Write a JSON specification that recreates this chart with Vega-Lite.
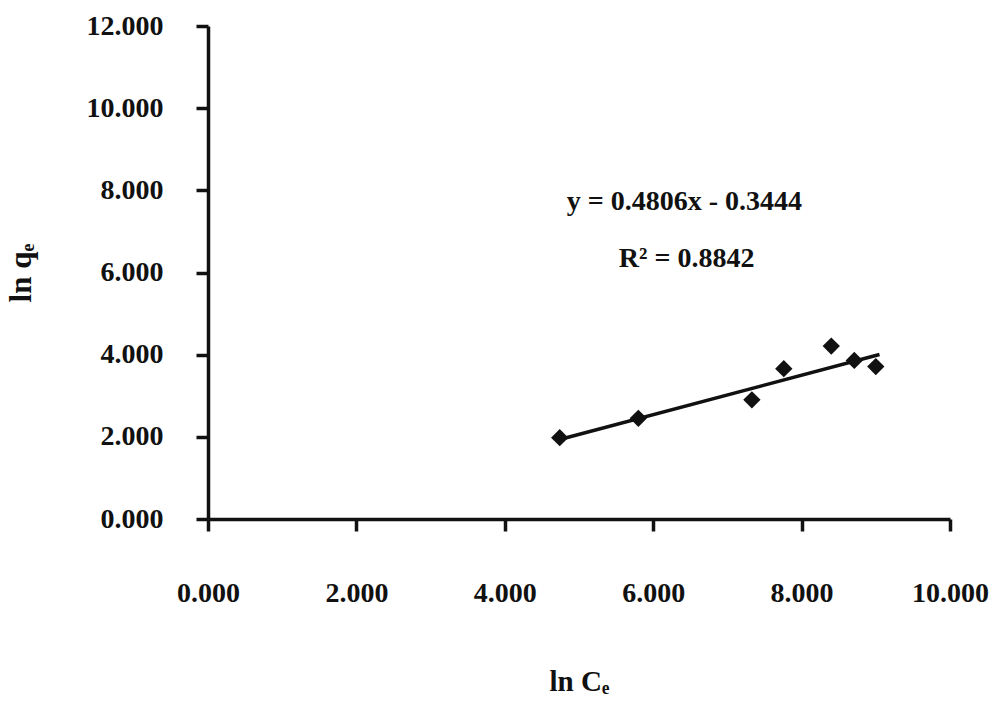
{
  "$schema": "https://vega.github.io/schema/vega-lite/v6.json",
  "width": 742,
  "height": 493,
  "autosize": {"type": "none"},
  "padding": {"left": 208, "top": 26, "right": 43, "bottom": 184},
  "background": "white",
  "config": {
    "font": "Liberation Serif",
    "view": {"stroke": null},
    "axis": {
      "grid": false,
      "domainColor": "#111",
      "domainWidth": 3.5,
      "tickColor": "#111",
      "tickWidth": 3.5,
      "tickSize": 12,
      "labelFont": "Liberation Serif",
      "labelFontWeight": "bold",
      "labelFontSize": 28,
      "labelColor": "#111",
      "titleFont": "Liberation Serif",
      "titleFontWeight": "bold",
      "titleColor": "#111"
    }
  },
  "datasets": {
    "obs": [
      {"lnCe": 4.74, "lnqe": 1.98},
      {"lnCe": 5.80, "lnqe": 2.45},
      {"lnCe": 7.33, "lnqe": 2.90},
      {"lnCe": 7.76, "lnqe": 3.66},
      {"lnCe": 8.40, "lnqe": 4.21},
      {"lnCe": 8.71, "lnqe": 3.86},
      {"lnCe": 9.00, "lnqe": 3.71}
    ],
    "fit": [
      {"lnCe": 4.74, "lnqe": 1.934},
      {"lnCe": 9.05, "lnqe": 4.005}
    ],
    "notes": [
      {"lnCe": 6.42, "lnqe": 7.72, "label": "y = 0.4806x - 0.3444"},
      {"lnCe": 6.45, "lnqe": 6.33, "label": "R² = 0.8842"}
    ]
  },
  "layer": [
    {
      "data": {"name": "fit"},
      "mark": {"type": "line", "color": "#111", "strokeWidth": 3.5},
      "encoding": {
        "x": {"field": "lnCe", "type": "quantitative"},
        "y": {"field": "lnqe", "type": "quantitative"}
      }
    },
    {
      "data": {"name": "obs"},
      "mark": {"type": "point", "shape": "diamond", "filled": true, "color": "#111", "opacity": 1, "size": 300},
      "encoding": {
        "x": {
          "field": "lnCe",
          "type": "quantitative",
          "scale": {"domain": [0, 10], "nice": false, "zero": true},
          "axis": {
            "values": [0, 2, 4, 6, 8, 10],
            "format": ".3f",
            "labelPadding": 48,
            "title": "ln Cₑ",
            "titleFontSize": 29,
            "titlePadding": 60,
            "labelFlush": false
          }
        },
        "y": {
          "field": "lnqe",
          "type": "quantitative",
          "scale": {"domain": [0, 12], "nice": false},
          "axis": {
            "values": [0, 2, 4, 6, 8, 10, 12],
            "format": ".3f",
            "labelPadding": 33,
            "title": "ln qₑ",
            "titleFontSize": 31,
            "titlePadding": 49,
            "labelFlush": false
          }
        }
      }
    },
    {
      "data": {"name": "notes"},
      "mark": {"type": "text", "font": "Liberation Serif", "fontWeight": "bold", "fontSize": 28, "color": "#111"},
      "encoding": {
        "x": {"field": "lnCe", "type": "quantitative"},
        "y": {"field": "lnqe", "type": "quantitative"},
        "text": {"field": "label"}
      }
    }
  ]
}
